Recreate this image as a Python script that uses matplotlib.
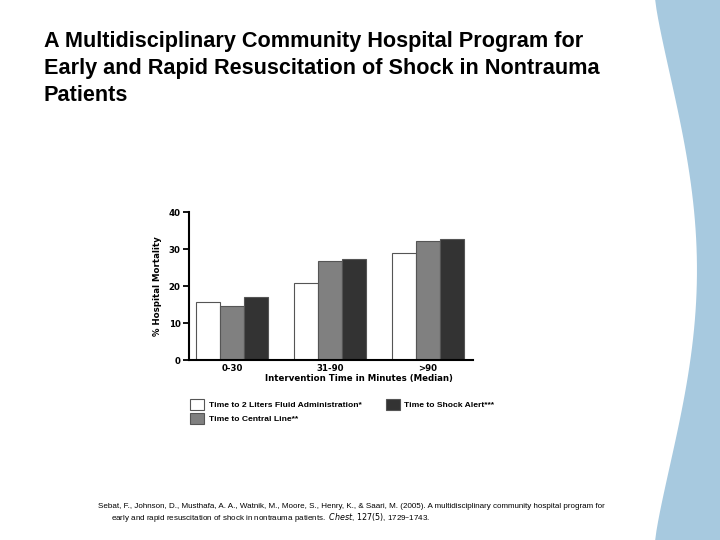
import numpy as np
import matplotlib.pyplot as plt
from matplotlib.patches import Polygon

# data
groups = ['0-30', '31-90', '>90']
fluid = [15.6, 20.9, 28.8]
central_line = [14.5, 26.9, 32.3]
shock_alert = [17.0, 27.2, 32.7]
series_names = ['Time to 2 Liters Fluid Administration*',
                'Time to Central Line**',
                'Time to Shock Alert***']
series_colors = ['white', '#808080', '#333333']

plt.rcParams['font.family'] = ['Liberation Sans', 'DejaVu Sans']
chart_font = 'DejaVu Sans'

fig = plt.figure(figsize=(7.2, 5.4), dpi=100)

# decorative blue band on the right edge
yy = np.linspace(0, 1, 60)
xs = 0.91 + 0.058 * np.sin(np.pi * yy) ** 1.2
band = np.column_stack([np.r_[xs, 1.0, 1.0], np.r_[yy, 1.0, 0.0]])
fig.patches.append(Polygon(band, closed=True, transform=fig.transFigure,
                           facecolor='#a7c9df', edgecolor='none'))

# title
fig.text(0.061, 0.942, 'A Multidisciplinary Community Hospital Program for\n'
         'Early and Rapid Resuscitation of Shock in Nontrauma\nPatients',
         fontsize=15.6, fontweight='bold', va='top', ha='left', linespacing=1.37)

ax = fig.add_axes([0.2625, 0.3333, 0.394, 0.274])
x = np.arange(len(groups))
w = 0.245
for i, (vals, name, col) in enumerate(zip([fluid, central_line, shock_alert],
                                          series_names, series_colors)):
    ax.bar(x + (i - 1) * w, vals, w, color=col, edgecolor='#555555',
           linewidth=0.8, label=name)

ax.set_xlim(-0.44, 2.46)
ax.set_ylim(0, 40)
ax.set_yticks([0, 10, 20, 30, 40])
ax.set_xticks(x)
ax.set_xticklabels(groups)
ax.tick_params(axis='y', direction='out', length=4, width=1.3, labelsize=6.2, pad=2)
ax.tick_params(axis='x', length=0, labelsize=6.2, pad=3)
for lab in ax.get_xticklabels() + ax.get_yticklabels():
    lab.set_fontweight('bold')
    lab.set_family(chart_font)
for s in ['top', 'right']:
    ax.spines[s].set_visible(False)
ax.spines['left'].set_linewidth(1.5)
ax.spines['bottom'].set_linewidth(1.5)
ax.set_ylabel('% Hospital Mortality', fontsize=6.2, fontweight='bold',
              family=chart_font, labelpad=5)
ax.set_xlabel('Intervention Time in Minutes (Median)', fontsize=6.2,
              fontweight='bold', family=chart_font)
ax.xaxis.set_label_coords(0.6, -0.095)

leg = ax.legend(ncol=2, loc='upper left', bbox_to_anchor=(0.259, 0.268),
                bbox_transform=fig.transFigure, frameon=False,
                prop={'size': 6.1, 'weight': 'bold'},
                handlelength=1.7, handleheight=1.6, handletextpad=0.5,
                columnspacing=2.9, labelspacing=0.4, borderaxespad=0)

# citation
fig.text(0.136, 0.062, 'Sebat, F., Johnson, D., Musthafa, A. A., Watnik, M., Moore, S., '
         'Henry, K., & Saari, M. (2005). A multidisciplinary community hospital program for',
         fontsize=5.8, ha='left', va='center')
fig.text(0.154, 0.042, 'early and rapid resuscitation of shock in nontrauma patients.  '
         r'$\it{Chest}$, $\it{127(5)}$, 1729' + '\u20131743.',
         fontsize=5.8, ha='left', va='center')

fig.savefig('out.png', dpi=100)
